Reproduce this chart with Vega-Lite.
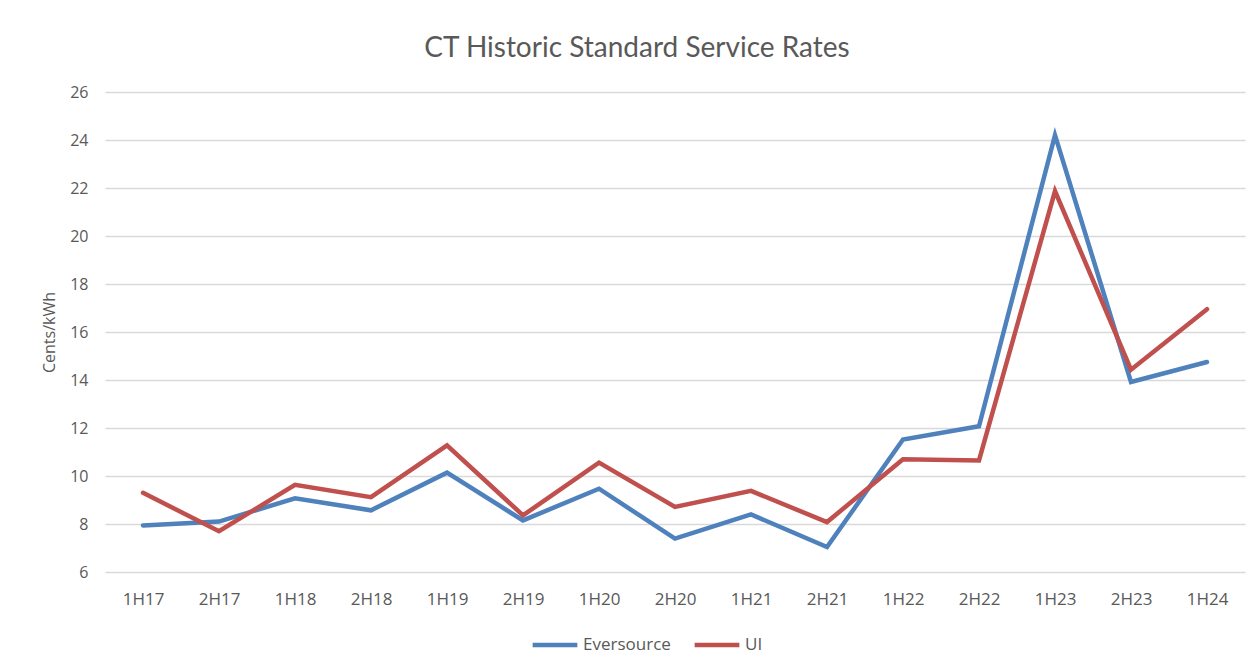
{
  "$schema": "https://vega.github.io/schema/vega-lite/v6.json",
  "autosize": "none",
  "width": 1140,
  "height": 480,
  "padding": {"left": 105, "top": 92, "right": 15, "bottom": 99},
  "background": "white",
  "title": {
    "text": "CT Historic Standard Service Rates",
    "font": "Lato",
    "fontSize": 28,
    "fontWeight": "normal",
    "color": "#595959",
    "anchor": "middle",
    "offset": 21,
    "dx": -38
  },
  "data": {
    "values": [
      {"period": "1H17", "company": "Eversource", "rate": 7.94},
      {"period": "2H17", "company": "Eversource", "rate": 8.1},
      {"period": "1H18", "company": "Eversource", "rate": 9.07},
      {"period": "2H18", "company": "Eversource", "rate": 8.57},
      {"period": "1H19", "company": "Eversource", "rate": 10.14},
      {"period": "2H19", "company": "Eversource", "rate": 8.15},
      {"period": "1H20", "company": "Eversource", "rate": 9.47},
      {"period": "2H20", "company": "Eversource", "rate": 7.39},
      {"period": "1H21", "company": "Eversource", "rate": 8.4},
      {"period": "2H21", "company": "Eversource", "rate": 7.04},
      {"period": "1H22", "company": "Eversource", "rate": 11.52},
      {"period": "2H22", "company": "Eversource", "rate": 12.07},
      {"period": "1H23", "company": "Eversource", "rate": 24.2},
      {"period": "2H23", "company": "Eversource", "rate": 13.92},
      {"period": "1H24", "company": "Eversource", "rate": 14.75},
      {"period": "1H17", "company": "UI", "rate": 9.3},
      {"period": "2H17", "company": "UI", "rate": 7.7},
      {"period": "1H18", "company": "UI", "rate": 9.63},
      {"period": "2H18", "company": "UI", "rate": 9.12},
      {"period": "1H19", "company": "UI", "rate": 11.28},
      {"period": "2H19", "company": "UI", "rate": 8.36},
      {"period": "1H20", "company": "UI", "rate": 10.56},
      {"period": "2H20", "company": "UI", "rate": 8.71},
      {"period": "1H21", "company": "UI", "rate": 9.38},
      {"period": "2H21", "company": "UI", "rate": 8.08},
      {"period": "1H22", "company": "UI", "rate": 10.7},
      {"period": "2H22", "company": "UI", "rate": 10.65},
      {"period": "1H23", "company": "UI", "rate": 21.87},
      {"period": "2H23", "company": "UI", "rate": 14.43},
      {"period": "1H24", "company": "UI", "rate": 16.95}
    ]
  },
  "mark": {"type": "line", "strokeWidth": 4.5, "strokeJoin": "miter", "strokeCap": "round"},
  "encoding": {
    "x": {
      "field": "period",
      "type": "nominal",
      "sort": null,
      "scale": {"type": "point", "padding": 0.5},
      "axis": {
        "title": null,
        "labelAngle": 0,
        "labelFont": "Open Sans",
        "labelFontSize": 17,
        "labelColor": "#595959",
        "labelPadding": 19,
        "ticks": false,
        "domain": false,
        "grid": false
      }
    },
    "y": {
      "field": "rate",
      "type": "quantitative",
      "scale": {"domain": [6, 26], "nice": false, "zero": false},
      "axis": {
        "title": "Cents/kWh",
        "titleFont": "Open Sans",
        "titleFontSize": 16,
        "titleFontWeight": "normal",
        "titleColor": "#595959",
        "titlePadding": 12,
        "values": [6, 8, 10, 12, 14, 16, 18, 20, 22, 24, 26],
        "labelFont": "Open Sans",
        "labelFontSize": 16,
        "labelColor": "#595959",
        "labelPadding": 17,
        "ticks": false,
        "domain": false,
        "grid": true,
        "gridColor": "#d9d9d9",
        "gridWidth": 1.3
      }
    },
    "color": {
      "field": "company",
      "type": "nominal",
      "scale": {"domain": ["Eversource", "UI"], "range": ["#4f81bd", "#c0504d"]},
      "legend": {
        "title": null,
        "orient": "none",
        "legendX": 425,
        "legendY": 528,
        "direction": "horizontal",
        "symbolType": "stroke",
        "symbolSize": 2000,
        "symbolStrokeWidth": 4.5,
        "labelFont": "Open Sans",
        "labelFontSize": 17,
        "labelColor": "#595959",
        "columnPadding": 14,
        "labelOffset": 3
      }
    }
  },
  "config": {"view": {"stroke": null}}
}
